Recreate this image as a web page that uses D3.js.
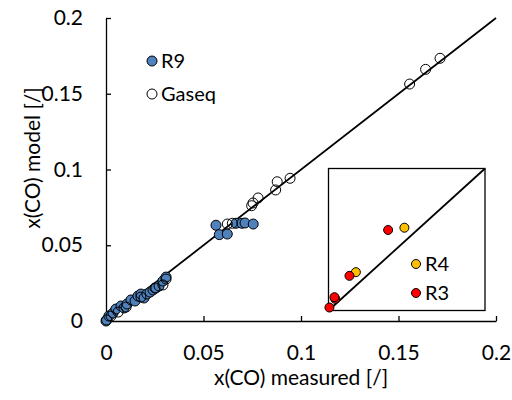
<!DOCTYPE html>
<html><head><meta charset="utf-8">
<script src="https://cdn.jsdelivr.net/npm/d3@7"></script>
<style>body{margin:0;background:#fff;} text{font-family:Lato,"Open Sans",sans-serif;}</style>
</head><body><svg id="c" width="512" height="400"></svg>
<script>
const xTicks = [0, 0.05, 0.1, 0.15, 0.2];
const yTicks = [0, 0.05, 0.1, 0.15, 0.2];
const tickLabels = ["0", "0.05", "0.1", "0.15", "0.2"];
const r9X = [0,0.0015,0.0036,0.0051,0.0077,0.0092,0.0108,0.0128,0.0149,0.0164,0.0179,0.0195,0.021,0.0226,0.0241,0.0256,0.0272,0.0292,0.0308,0.0564,0.0581,0.0622,0.0667,0.0697,0.0713,0.0755];
const r9Y = [0,0.0033,0.0053,0.0079,0.0099,0.0086,0.0112,0.0139,0.0132,0.0165,0.0178,0.0152,0.0178,0.0191,0.0205,0.0218,0.0231,0.0264,0.029,0.0632,0.057,0.0574,0.0645,0.0645,0.0647,0.064];
const gaseqX = [0.0003,0.0026,0.0062,0.0103,0.0179,0.0251,0.0292,0.0308,0.0622,0.0648,0.0747,0.0754,0.078,0.087,0.0878,0.0944,0.1557,0.1639,0.1713];
const gaseqY = [0.0007,0.0033,0.0059,0.0092,0.0158,0.0218,0.0238,0.0277,0.064,0.0645,0.0761,0.0779,0.0812,0.0865,0.0919,0.0942,0.1564,0.1661,0.1734];
// inset (relative units)
const r3X = [0.0006,0.0043,0.0038,0.0134,0.0381];
const r3Y = [0.0021,0.0082,0.0094,0.0244,0.0567];
const r4X = [0.0175,0.0485];
const r4Y = [0.0270,0.0583];
const seriesNames = ["R9", "Gaseq", "R4", "R3"];

const FS = 21;
const svg = d3.select("#c");
const x = d3.scaleLinear().domain([0, 0.2]).range([106, 496]);
const y = d3.scaleLinear().domain([0, 0.2]).range([321, 18]);

// axes
const xAxis = d3.axisBottom(x).tickValues(xTicks).tickSizeInner(-5).tickSizeOuter(0).tickFormat((d,i)=>tickLabels[i]);
const gx = svg.append("g").attr("transform","translate(0,321)").call(xAxis);
gx.selectAll("text").attr("font-size",FS).attr("fill","#000").attr("y",39).attr("dy",null);
const yAxis = d3.axisLeft(y).tickValues(yTicks).tickSizeInner(-5).tickSizeOuter(0).tickFormat((d,i)=>tickLabels[i]);
const gy = svg.append("g").attr("transform","translate(106,0)").call(yAxis);
gy.selectAll("text").attr("font-size",FS).attr("fill","#000").attr("x",-23);
svg.selectAll(".domain").attr("stroke","#000").attr("stroke-width",1.3);
svg.selectAll(".tick line").attr("stroke","#000").attr("stroke-width",1.3);

svg.append("text").attr("x",301).attr("y",385).attr("text-anchor","middle").attr("font-size",FS).text("x(CO) measured [/]");
svg.append("text").attr("transform","translate(40,158) rotate(-90)").attr("text-anchor","middle").attr("font-size",FS).text("x(CO) model [/]");

// diagonal
svg.append("line").attr("x1",x(0)).attr("y1",y(0)).attr("x2",x(0.2)).attr("y2",y(0.2)).attr("stroke","#000").attr("stroke-width",1.8);

const blue = "#4f81bd";
svg.append("g").selectAll("circle").data(r9X).join("circle")
  .attr("cx",(d)=>x(d)).attr("cy",(d,i)=>y(r9Y[i])).attr("r",5)
  .attr("fill",blue).attr("stroke","#000").attr("stroke-width",1);
svg.append("g").selectAll("circle").data(gaseqX).join("circle")
  .attr("cx",(d)=>x(d)).attr("cy",(d,i)=>y(gaseqY[i])).attr("r",5)
  .attr("fill","none").attr("stroke","#000").attr("stroke-width",1);

// legend main
svg.append("circle").attr("cx",152).attr("cy",61).attr("r",5).attr("fill",blue).attr("stroke","#000");
svg.append("text").attr("x",161).attr("y",68).attr("font-size",FS-1).text(seriesNames[0]);
svg.append("circle").attr("cx",152).attr("cy",94).attr("r",5).attr("fill","#fff").attr("stroke","#000");
svg.append("text").attr("x",161).attr("y",101).attr("font-size",FS-1).text(seriesNames[1]);

// inset
const ix = d3.scaleLinear().domain([0, 0.1]).range([328.5, 485]);
const iy = d3.scaleLinear().domain([0, 0.1]).range([310.5, 168.5]);
svg.append("rect").attr("x",ix(0)).attr("y",iy(0.1)).attr("width",ix(0.1)-ix(0)).attr("height",iy(0)-iy(0.1))
  .attr("fill","#fff").attr("stroke","#000").attr("stroke-width",1.3);
svg.append("line").attr("x1",ix(0)).attr("y1",iy(0)).attr("x2",ix(0.1)).attr("y2",iy(0.1)).attr("stroke","#000").attr("stroke-width",1.8);
svg.append("g").selectAll("circle").data(r4X).join("circle")
  .attr("cx",(d)=>ix(d)).attr("cy",(d,i)=>iy(r4Y[i])).attr("r",4.5)
  .attr("fill","#ffc000").attr("stroke","#000").attr("stroke-width",1);
svg.append("g").selectAll("circle").data(r3X).join("circle")
  .attr("cx",(d)=>ix(d)).attr("cy",(d,i)=>iy(r3Y[i])).attr("r",4.5)
  .attr("fill","#ff0000").attr("stroke","#000").attr("stroke-width",1);
svg.append("circle").attr("cx",416).attr("cy",264).attr("r",4.5).attr("fill","#ffc000").attr("stroke","#000");
svg.append("text").attr("x",425).attr("y",271).attr("font-size",FS-1).text(seriesNames[2]);
svg.append("circle").attr("cx",416).attr("cy",293).attr("r",4.5).attr("fill","#ff0000").attr("stroke","#000");
svg.append("text").attr("x",425).attr("y",300).attr("font-size",FS-1).text(seriesNames[3]);
</script></body></html>
